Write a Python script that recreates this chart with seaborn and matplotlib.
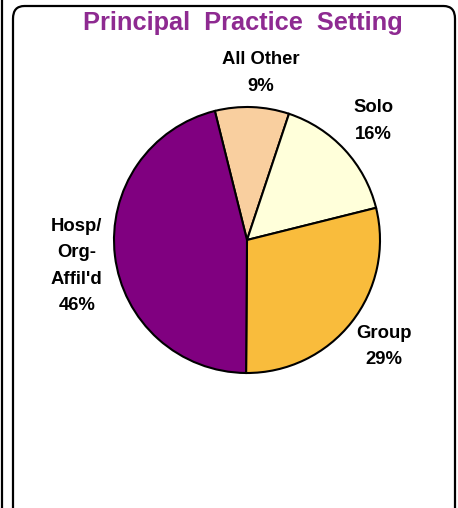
import matplotlib
matplotlib.use("Agg")
import matplotlib.pyplot as plt
from matplotlib.patches import FancyBboxPatch
from matplotlib.lines import Line2D
import seaborn as sns

# data
categories = ["All Other", "Solo", "Group", "Hosp/\nOrg-\nAffil'd"]
shares = [9, 16, 29, 46]
colors = ["#F9CF9F", "#FFFFDA", "#F9BC3C", "#800080"]

sns.set_theme(style="white")
plt.rcParams['font.family'] = ['Liberation Sans', 'DejaVu Sans']

W, H = 458, 508
fig = plt.figure(figsize=(W / 100, H / 100), dpi=100)
fig.patch.set_facecolor("white")

# panel frames
box = FancyBboxPatch((13 / W, -20 / H), (455 - 13) / W, (H - 6 + 20) / H,
                     boxstyle="round,pad=0,rounding_size=0.025",
                     transform=fig.transFigure, fill=False,
                     edgecolor="black", linewidth=1.6)
fig.patches.append(box)
fig.add_artist(Line2D([2 / W, 2 / W], [0, 1], transform=fig.transFigure,
                      color="black", linewidth=1.6))

fig.text(243 / W, 1 - 23 / H, "Principal  Practice  Setting",
         ha="center", va="center", fontsize=18.3, fontweight="bold",
         color="#8E2A91")

cx, cy, r = 247, 240, 133
ax = fig.add_axes([(cx - r) / W, (H - cy - r) / H, 2 * r / W, 2 * r / H])
ax.pie(shares, colors=colors, startangle=104, counterclock=False,
       wedgeprops=dict(edgecolor="black", linewidth=1.5))
ax.set_xlim(-1, 1)
ax.set_ylim(-1, 1)
ax.set_aspect("equal")
ax.axis("off")

label_pos = [(0.105, 1.255), (0.95, 0.895), (1.03, -0.80), (-1.28, -0.195)]
for name, val, (x, y) in zip(categories, shares, label_pos):
    ax.text(x, y, f"{name}\n{val}%", ha="center", va="center",
            fontsize=13.3, fontweight="bold", color="black",
            linespacing=1.72, clip_on=False)

fig.savefig("out.png", dpi=100)
